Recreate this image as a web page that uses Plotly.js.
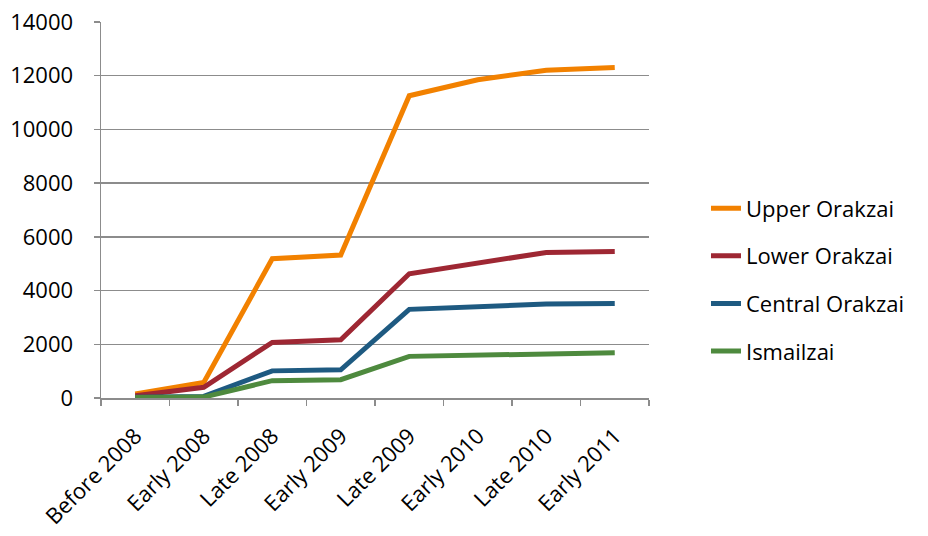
<!DOCTYPE html>
<html>
<head>
<meta charset="utf-8">
<script src="https://cdn.plot.ly/plotly-3.0.1.min.js"></script>
<style>html,body{margin:0;padding:0;background:#fff}#chart{width:928px;height:536px}</style>
</head>
<body>
<div id="chart"></div>
<script>
const categories = ["Before 2008","Early 2008","Late 2008","Early 2009","Late 2009","Early 2010","Late 2010","Early 2011"];
const upperOrakzai   = [150, 580, 5185, 5325, 11255, 11850, 12200, 12310];
const lowerOrakzai   = [80, 400, 2070, 2170, 4625, 5030, 5420, 5455];
const centralOrakzai = [30, 60, 1010, 1050, 3300, 3400, 3500, 3520];
const ismailzai      = [15, 35, 645, 680, 1550, 1610, 1660, 1685];
const seriesNames = ["Upper Orakzai","Lower Orakzai","Central Orakzai","Ismailzai"];
const seriesColors = ["#F28100","#9E2733","#1E5A81","#4E8A3E"];
const seriesValues = [upperOrakzai, lowerOrakzai, centralOrakzai, ismailzai];
const yTicks = [0,2000,4000,6000,8000,10000,12000,14000];

const font = "'Open Sans', 'Noto Sans', sans-serif";
const traces = seriesValues.map((v,i)=>({
  type:"scatter", mode:"lines", x:categories, y:v, name:seriesNames[i],
  legendgroup:"g"+i,
  line:{color:seriesColors[i], width:5, shape:"linear"},
  hoverinfo:"skip"
}));

const layout = {
  width:928, height:536,
  margin:{l:101, r:279, t:22, b:138},
  paper_bgcolor:"#fff", plot_bgcolor:"#fff",
  font:{family:font, size:22, color:"#000"},
  showlegend:true,
  legend:{x:1.104, y:0.314, xanchor:"left", yanchor:"middle", font:{family:font, size:22, color:"#000"},
          tracegroupgap:16, traceorder:"grouped", bgcolor:"rgba(0,0,0,0)"},
  xaxis:{type:"category", range:[-0.5,7.5], tickson:"boundaries", ticks:"outside", ticklen:6,
         tickcolor:"#8c8c8c", tickwidth:1.5, showline:true, linecolor:"#8c8c8c", linewidth:1.5,
         showgrid:false, zeroline:false, tickangle:-45, tickfont:{family:font, size:22, color:"#000"},
         ticklabelstandoff:15, fixedrange:true},
  yaxis:{range:[0,14000], tickvals:yTicks, ticktext:yTicks.map(String), ticks:"outside", ticklen:6,
         tickcolor:"#8c8c8c", tickwidth:1.5, showline:true, linecolor:"#8c8c8c", linewidth:1.5,
         showgrid:true, gridcolor:"#8c8c8c", gridwidth:1.5, zeroline:false,
         tickfont:{family:font, size:22, color:"#000"}, ticklabelstandoff:16, fixedrange:true}
};
Plotly.newPlot("chart", traces, layout, {displayModeBar:false, staticPlot:true});
</script>
</body>
</html>
